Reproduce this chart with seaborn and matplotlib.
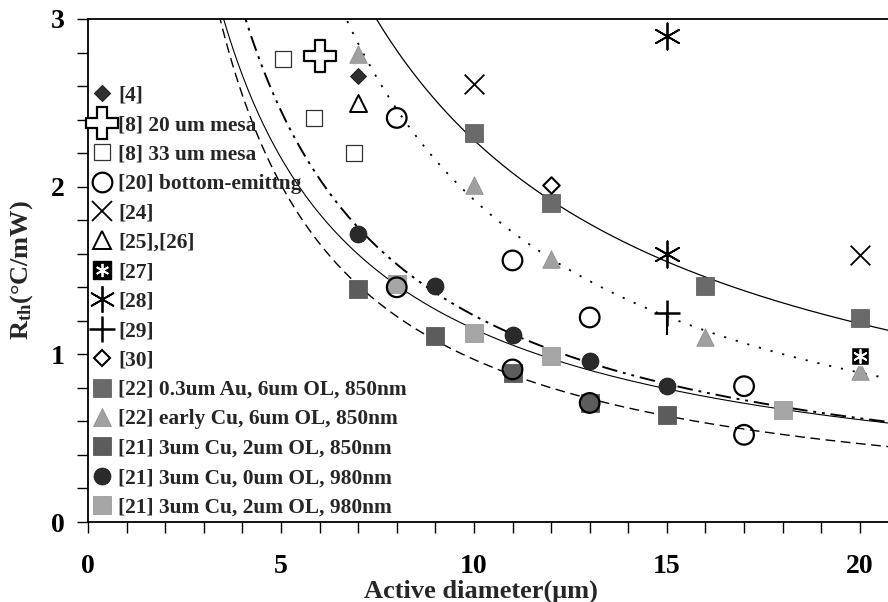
import numpy as np
import pandas as pd
import matplotlib
matplotlib.use("Agg")
import matplotlib.pyplot as plt
from matplotlib.lines import Line2D
import seaborn as sns

# ---------------- data ----------------
ref4_x = [7]
ref4_y = [2.66]
ref8a_x = [6.0]
ref8a_y = [2.78]
ref8b_x = [5.05, 5.85, 6.9]
ref8b_y = [2.76, 2.41, 2.20]
ref20_x = [8, 8, 11, 11, 13, 13, 17, 17]
ref20_y = [2.41, 1.40, 1.56, 0.91, 1.22, 0.71, 0.81, 0.52]
ref24_x = [10, 20]
ref24_y = [2.61, 1.59]
ref25_x = [7]
ref25_y = [2.50]
ref27_x = [20]
ref27_y = [0.99]
ref28_x = [15, 15]
ref28_y = [2.90, 1.60]
ref29_x = [15]
ref29_y = [1.245]
ref29_err_low = [0.13]
ref30_x = [12]
ref30_y = [2.01]
au_x = [10, 12, 16, 20]
au_y = [2.32, 1.90, 1.41, 1.215]
early_x = [7, 10, 12, 16, 20]
early_y = [2.79, 2.01, 1.57, 1.105, 0.90]
cu850_x = [7, 9, 11, 13, 15]
cu850_y = [1.39, 1.11, 0.89, 0.71, 0.64]
cu980_0_x = [7, 9, 11, 13, 15]
cu980_0_y = [1.72, 1.41, 1.115, 0.96, 0.81]
cu980_2_x = [8, 10, 12, 18]
cu980_2_y = [1.42, 1.13, 0.99, 0.67]

x_ticks = [0, 5, 10, 15, 20]
y_ticks = [0, 1, 2, 3]

# ---------------- style ----------------
sns.set_theme(style="ticks")
plt.rcParams["font.family"] = ["Liberation Serif", "DejaVu Serif"]
plt.rcParams["font.weight"] = "bold"
plt.rcParams["mathtext.fontset"] = "custom"
plt.rcParams["mathtext.rm"] = "Liberation Serif:bold"
plt.rcParams["mathtext.bf"] = "Liberation Serif:bold"
plt.rcParams["mathtext.it"] = "Liberation Serif:bold"

fig = plt.figure(figsize=(8.88, 6.02), dpi=100)
ax = fig.add_axes([88 / 888, 1 - 522 / 602, 1 - 88 / 888, (522 - 19) / 602])

XMAX = 20.73
ax.set_xlim(0, XMAX)
ax.set_ylim(0, 3)

# ---------------- fit curves ----------------
def power_fit(xs, ys):
    b, a = np.polyfit(np.log(xs), np.log(ys), 1)
    return a, b

grid = np.linspace(2.5, XMAX, 400)
fits = [
    (au_x, au_y, dict(ls="-", lw=0.9)),
    (early_x, early_y, dict(ls=(0, (1.2, 5.5)), lw=1.3)),
    (cu980_0_x, cu980_0_y, dict(ls=(0, (8, 3, 1.5, 3, 1.5, 3)), lw=1.4)),
    (cu980_2_x, cu980_2_y, dict(ls="-", lw=0.8)),
    (cu850_x, cu850_y, dict(ls=(0, (7, 4)), lw=1.0)),
]
for xs, ys, st in fits:
    a, b = power_fit(xs, ys)
    yy = np.exp(a) * grid ** b
    sns.lineplot(x=grid, y=yy, ax=ax, color="black", sort=False,
                 estimator=None, zorder=2, **st)

# ---------------- markers ----------------
C_AU = "#6a6a6a"
C_EARLY = "#a0a0a0"
C_850 = "#5c5c5c"
C_980_0 = "#2a2a2a"
C_980_2 = "#a6a6a6"

styles = {
    "[4]": dict(marker="D", s=64, color="#303030", edgecolor="#202020", linewidth=0.8),
    "[8] 20 um mesa": dict(marker="P", s=520, color="white", edgecolor="black", linewidth=1.6),
    "[8] 33 um mesa": dict(marker="s", s=120, color="white", edgecolor="#333333", linewidth=0.9),
    "[20] bottom-emittng": dict(marker="o", s=200, facecolors="none", edgecolor="black", linewidth=1.6),
    "[24]": dict(marker="x", s=200, color="black", linewidth=1.3),
    "[25],[26]": dict(marker="^", s=150, color="white", edgecolor="black", linewidth=1.4),
    "[28]": dict(marker=(6, 2, 0), s=360, color="black", linewidth=1.3),
    "[29]": dict(marker="+", s=360, color="black", linewidth=1.8),
    "[30]": dict(marker="D", s=70, color="white", edgecolor="black", linewidth=1.5),
    "[22] 0.3um Au, 6um OL, 850nm": dict(marker="s", s=150, color=C_AU, edgecolor="#555555", linewidth=0.5),
    "[22] early Cu, 6um OL, 850nm": dict(marker="^", s=160, color=C_EARLY, edgecolor="#888888", linewidth=0.5),
    "[21] 3um Cu, 2um OL, 850nm": dict(marker="s", s=150, color=C_850, edgecolor="#4a4a4a", linewidth=0.5),
    "[21] 3um Cu, 0um OL, 980nm": dict(marker="o", s=150, color=C_980_0, edgecolor="#1a1a1a", linewidth=0.5),
    "[21] 3um Cu, 2um OL, 980nm": dict(marker="s", s=150, color=C_980_2, edgecolor="#909090", linewidth=0.5),
}

series = [
    ("[22] 0.3um Au, 6um OL, 850nm", au_x, au_y),
    ("[22] early Cu, 6um OL, 850nm", early_x, early_y),
    ("[21] 3um Cu, 2um OL, 850nm", cu850_x, cu850_y),
    ("[21] 3um Cu, 0um OL, 980nm", cu980_0_x, cu980_0_y),
    ("[21] 3um Cu, 2um OL, 980nm", cu980_2_x, cu980_2_y),
    ("[20] bottom-emittng", ref20_x, ref20_y),
    ("[4]", ref4_x, ref4_y),
    ("[8] 20 um mesa", ref8a_x, ref8a_y),
    ("[8] 33 um mesa", ref8b_x, ref8b_y),
    ("[24]", ref24_x, ref24_y),
    ("[25],[26]", ref25_x, ref25_y),
    ("[28]", ref28_x, ref28_y),
    ("[29]", ref29_x, ref29_y),
    ("[30]", ref30_x, ref30_y),
]
for name, xs, ys in series:
    sns.scatterplot(x=xs, y=ys, ax=ax, zorder=3, legend=False, **styles[name])

# [29] lower error bar
ax.errorbar(ref29_x, ref29_y, yerr=[ref29_err_low, [0]], fmt="none",
            ecolor="black", elinewidth=1.5, capsize=0, zorder=3)

# [27] black square with white x
sns.scatterplot(x=ref27_x, y=ref27_y, ax=ax, marker="s", s=170, color="black",
                zorder=4, legend=False)
sns.scatterplot(x=ref27_x, y=ref27_y, ax=ax, marker=(6, 2, 0), s=90, color="white",
                linewidth=1.3, zorder=5, legend=False)

# ---------------- legend ----------------
def proxy(name):
    st = styles[name]
    fc = st.get("facecolors", st.get("color"))
    ec = st.get("edgecolor", st.get("color"))
    return Line2D([], [], ls="none", marker=st["marker"], markersize=np.sqrt(st["s"]),
                  markerfacecolor=fc, markeredgecolor=ec,
                  markeredgewidth=st.get("linewidth", 1.0))

order = ["[4]", "[8] 20 um mesa", "[8] 33 um mesa", "[20] bottom-emittng", "[24]",
         "[25],[26]", "[27]", "[28]", "[29]", "[30]",
         "[22] 0.3um Au, 6um OL, 850nm", "[22] early Cu, 6um OL, 850nm",
         "[21] 3um Cu, 2um OL, 850nm", "[21] 3um Cu, 0um OL, 980nm",
         "[21] 3um Cu, 2um OL, 980nm"]
handles = []
for name in order:
    if name == "[27]":
        h1 = Line2D([], [], ls="none", marker="s", markersize=13, color="black")
        h2 = Line2D([], [], ls="none", marker=(6, 2, 0), markersize=9.5,
                    color="white", markeredgewidth=1.3)
        handles.append((h1, h2))
    else:
        handles.append(proxy(name))

LEG_FS = 15.4
leg = ax.legend(handles, order, loc="upper left",
                bbox_to_anchor=(0.0081, 0.867), frameon=False,
                handlelength=0.7, handletextpad=0.4,
                labelspacing=0.44, borderpad=0, borderaxespad=0,
                prop={"family": "Liberation Serif", "weight": "bold", "size": LEG_FS})

# ---------------- axes styling ----------------
ax.set_xticks(x_ticks)
ax.set_yticks(y_ticks)
ax.set_xticklabels([str(v) for v in x_ticks])
ax.set_yticklabels([str(v) for v in y_ticks])
ax.set_xticks(np.arange(0, 21, 1), minor=True)
ax.set_yticks(np.arange(0, 3.01, 0.2), minor=True)
ax.tick_params(axis="both", which="both", direction="out", length=8, width=1.0,
               colors="black")
ax.tick_params(axis="x", which="major", pad=15, labelsize=20)
ax.tick_params(axis="y", which="major", pad=9, labelsize=20)
for lab in ax.get_xticklabels() + ax.get_yticklabels():
    lab.set_fontweight("bold")

for side in ["left", "bottom", "top"]:
    ax.spines[side].set_visible(True)
    ax.spines[side].set_linewidth(1.3)
    ax.spines[side].set_color("black")
ax.spines["right"].set_visible(False)

ax.set_xlabel("Active diameter(μm)", fontsize=19, fontweight="bold", labelpad=0)
ax.xaxis.set_label_coords((481 - 88) / 800, -(580 - 522) / 503)
ax.set_ylabel(r"R$_{\mathrm{th}}$(°C/mW)", fontsize=19, fontweight="bold")
ax.yaxis.set_label_coords(-(88 - 35) / 800, (522 - 270) / 503)

fig.savefig("out.png", dpi=100)
